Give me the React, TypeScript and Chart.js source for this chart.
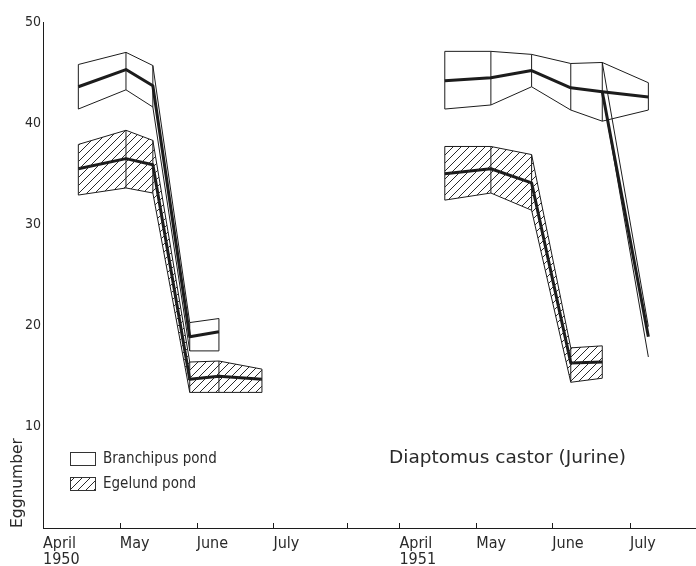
import React, { useEffect, useRef } from "react";
import { Chart, registerables } from "chart.js";

Chart.register(...registerables);

// ---- axis ticks (x in month units: April 1950 = 0) ----
const tickValues = [0, 1, 2, 3, 3.96, 4.64, 5.64, 6.63, 7.64];
const tickLabels: (string | string[])[] = [["April", "1950"], "May", "June", "July", "", ["April", "1951"], "May", "June", "July"];
const yTickValues = [10, 20, 30, 40, 50];

// ---- Branchipus pond, 1950 ----
const branch50X = [0.46, 1.08, 1.43, 1.91, 2.29];
const branch50Mean = [43.6, 45.3, 43.7, 18.9, 19.4];
const branch50Upper = [45.8, 47.0, 45.7, 20.3, 20.7];
const branch50Lower = [41.4, 43.3, 41.6, 17.5, 17.5];

// ---- Egelund pond, 1950 ----
const egel50X = [0.46, 1.08, 1.43, 1.91, 2.29, 2.85];
const egel50Mean = [35.5, 36.5, 35.9, 14.7, 15.0, 14.7];
const egel50Upper = [37.9, 39.3, 38.3, 16.4, 16.5, 15.7];
const egel50Lower = [32.9, 33.6, 33.1, 13.4, 13.4, 13.4];

// ---- Branchipus pond, 1951 ----
const branch51X = [5.23, 5.83, 6.36, 6.87, 7.28, 7.88];
const branch51Mean = [44.2, 44.5, 45.2, 43.5, 43.1, 42.6];
const branch51Upper = [47.1, 47.1, 46.8, 45.9, 46.0, 44.0];
const branch51Lower = [41.4, 41.8, 43.6, 41.3, 40.2, 41.3];

// ---- Branchipus pond, 1951, collapsing branch ----
const branch51DropX = [7.28, 7.88];
const branch51DropMean = [43.1, 18.9];
const branch51DropUpper = [46.0, 19.9];
const branch51DropLower = [43.1, 16.9];

// ---- Egelund pond, 1951 ----
const egel51X = [5.23, 5.83, 6.36, 6.87, 7.28];
const egel51Mean = [35.0, 35.5, 34.1, 16.3, 16.4];
const egel51Upper = [37.7, 37.7, 36.9, 17.8, 18.0];
const egel51Lower = [32.4, 33.1, 31.4, 14.4, 14.8];

const legendLabels = ["Branchipus pond", "Egelund pond"];
const speciesLabel = "Diaptomus castor (Jurine)";
const yTitle = "Eggnumber";

const INK = "#1c1c1c";
const TEXT = "#2a2a2a";
const FONT_C = '"DejaVu Sans Condensed", "DejaVu Sans", sans-serif';
const FONT = '"DejaVu Sans", sans-serif';

function makeHatch(): CanvasPattern | string {
  const c = document.createElement("canvas");
  c.width = 8;
  c.height = 8;
  const g = c.getContext("2d");
  if (!g) return "transparent";
  g.strokeStyle = "#2a2a2a";
  g.lineWidth = 1;
  g.beginPath();
  g.moveTo(0, 8);
  g.lineTo(8, 0);
  g.moveTo(-1, 1);
  g.lineTo(1, -1);
  g.moveTo(7, 9);
  g.lineTo(9, 7);
  g.stroke();
  return g.createPattern(c, "repeat") || "transparent";
}

function bandSets(xs: number[], up: number[], lo: number[], mean: number[], fillStyle: any, verticals = true) {
  const pts = (ys: number[]) => xs.map((x, i) => ({ x, y: ys[i] }));
  const verts: { x: number; y: number | null }[] = [];
  xs.forEach((x, i) => {
    verts.push({ x, y: lo[i] }, { x, y: up[i] }, { x, y: null });
  });
  const sets: any[] = [
    { data: pts(up), borderWidth: 1, fill: fillStyle ? "+1" : false, backgroundColor: fillStyle || "transparent" },
    { data: pts(lo), borderWidth: 1, fill: false },
  ];
  if (verticals) sets.push({ data: verts, borderWidth: 1, fill: false, spanGaps: false });
  sets.push({ data: pts(mean), borderWidth: 3, fill: false, borderJoinStyle: "round" });
  return sets;
}

export default function App() {
  const ref = useRef<HTMLCanvasElement | null>(null);

  useEffect(() => {
    if (!ref.current) return;
    const hatch = makeHatch();

    const datasets = [
      ...bandSets(egel50X, egel50Upper, egel50Lower, egel50Mean, hatch),
      ...bandSets(branch50X, branch50Upper, branch50Lower, branch50Mean, null),
      ...bandSets(egel51X, egel51Upper, egel51Lower, egel51Mean, hatch),
      ...bandSets(branch51X, branch51Upper, branch51Lower, branch51Mean, null),
      ...bandSets(branch51DropX, branch51DropUpper, branch51DropLower, branch51DropMean, null, false),
    ].map((d) => ({
      borderColor: INK,
      pointRadius: 0,
      pointHoverRadius: 0,
      tension: 0,
      ...d,
    }));

    const decor = {
      id: "decor",
      afterDraw(chart: any) {
        const { ctx, chartArea } = chart;
        const x = chart.scales.x;
        ctx.save();
        ctx.strokeStyle = INK;
        ctx.lineWidth = 1;
        // small tick marks pointing up from the x axis
        tickValues.forEach((v) => {
          if (v === 0) return;
          const px = Math.round(x.getPixelForValue(v)) + 0.5;
          ctx.beginPath();
          ctx.moveTo(px, chartArea.bottom);
          ctx.lineTo(px, chartArea.bottom - 5);
          ctx.stroke();
        });
        // legend
        const bx = 70.5, bw = 25, bh = 13;
        const rows = [452.5, 477.5];
        ctx.strokeStyle = "#333";
        rows.forEach((ry, i) => {
          if (i === 1) {
            ctx.fillStyle = hatch as any;
            ctx.fillRect(bx, ry, bw, bh);
          }
          ctx.strokeRect(bx, ry, bw, bh);
          ctx.fillStyle = TEXT;
          ctx.font = `15px ${FONT_C}`;
          ctx.textBaseline = "middle";
          ctx.textAlign = "left";
          ctx.fillText(legendLabels[i], 103, ry + bh / 2 + 0.5);
        });
        // species annotation
        ctx.font = `18.5px ${FONT}`;
        ctx.fillStyle = TEXT;
        ctx.textBaseline = "middle";
        ctx.fillText(speciesLabel, 389, 458);
        ctx.restore();
      },
    };

    const chart = new Chart(ref.current, {
      type: "line",
      data: { datasets },
      options: {
        animation: false,
        responsive: false,
        events: [],
        layout: { padding: { top: 22, left: 0, right: 0, bottom: 0 } },
        plugins: { legend: { display: false }, tooltip: { enabled: false } },
        scales: {
          x: {
            type: "linear",
            min: 0,
            max: 8.5,
            afterBuildTicks: (s: any) => {
              s.ticks = tickValues.map((v) => ({ value: v }));
            },
            afterFit: (s: any) => {
              s.height = 38;
            },
            grid: { display: false, drawTicks: false },
            border: { display: true, color: INK, width: 1 },
            ticks: {
              autoSkip: false,
              maxRotation: 0,
              minRotation: 0,
              align: "start",
              padding: 7,
              color: TEXT,
              font: { family: FONT_C, size: 16, lineHeight: 1.05 },
              callback: (_v: any, i: number) => tickLabels[i],
            },
          },
          y: {
            type: "linear",
            min: 0,
            max: 50,
            afterBuildTicks: (s: any) => {
              s.ticks = yTickValues.map((v) => ({ value: v }));
            },
            afterFit: (s: any) => {
              s.width = 43;
            },
            grid: { display: false, drawTicks: false },
            border: { display: true, color: INK, width: 1 },
            ticks: {
              padding: 2,
              color: TEXT,
              font: { family: FONT_C, size: 14 },
              callback: (v: any) => String(v),
            },
            title: {
              display: true,
              text: yTitle,
              align: "start",
              color: TEXT,
              font: { family: FONT, size: 15.5 },
              padding: { top: 9, bottom: 0 },
            },
          },
        },
      },
      plugins: [decor],
    } as any);

    return () => chart.destroy();
  }, []);

  return (
    <div style={{ position: "absolute", left: 0, top: 0, width: 696, height: 566, background: "#fff" }}>
      <canvas ref={ref} width={696} height={566} style={{ display: "block" }} />
    </div>
  );
}
